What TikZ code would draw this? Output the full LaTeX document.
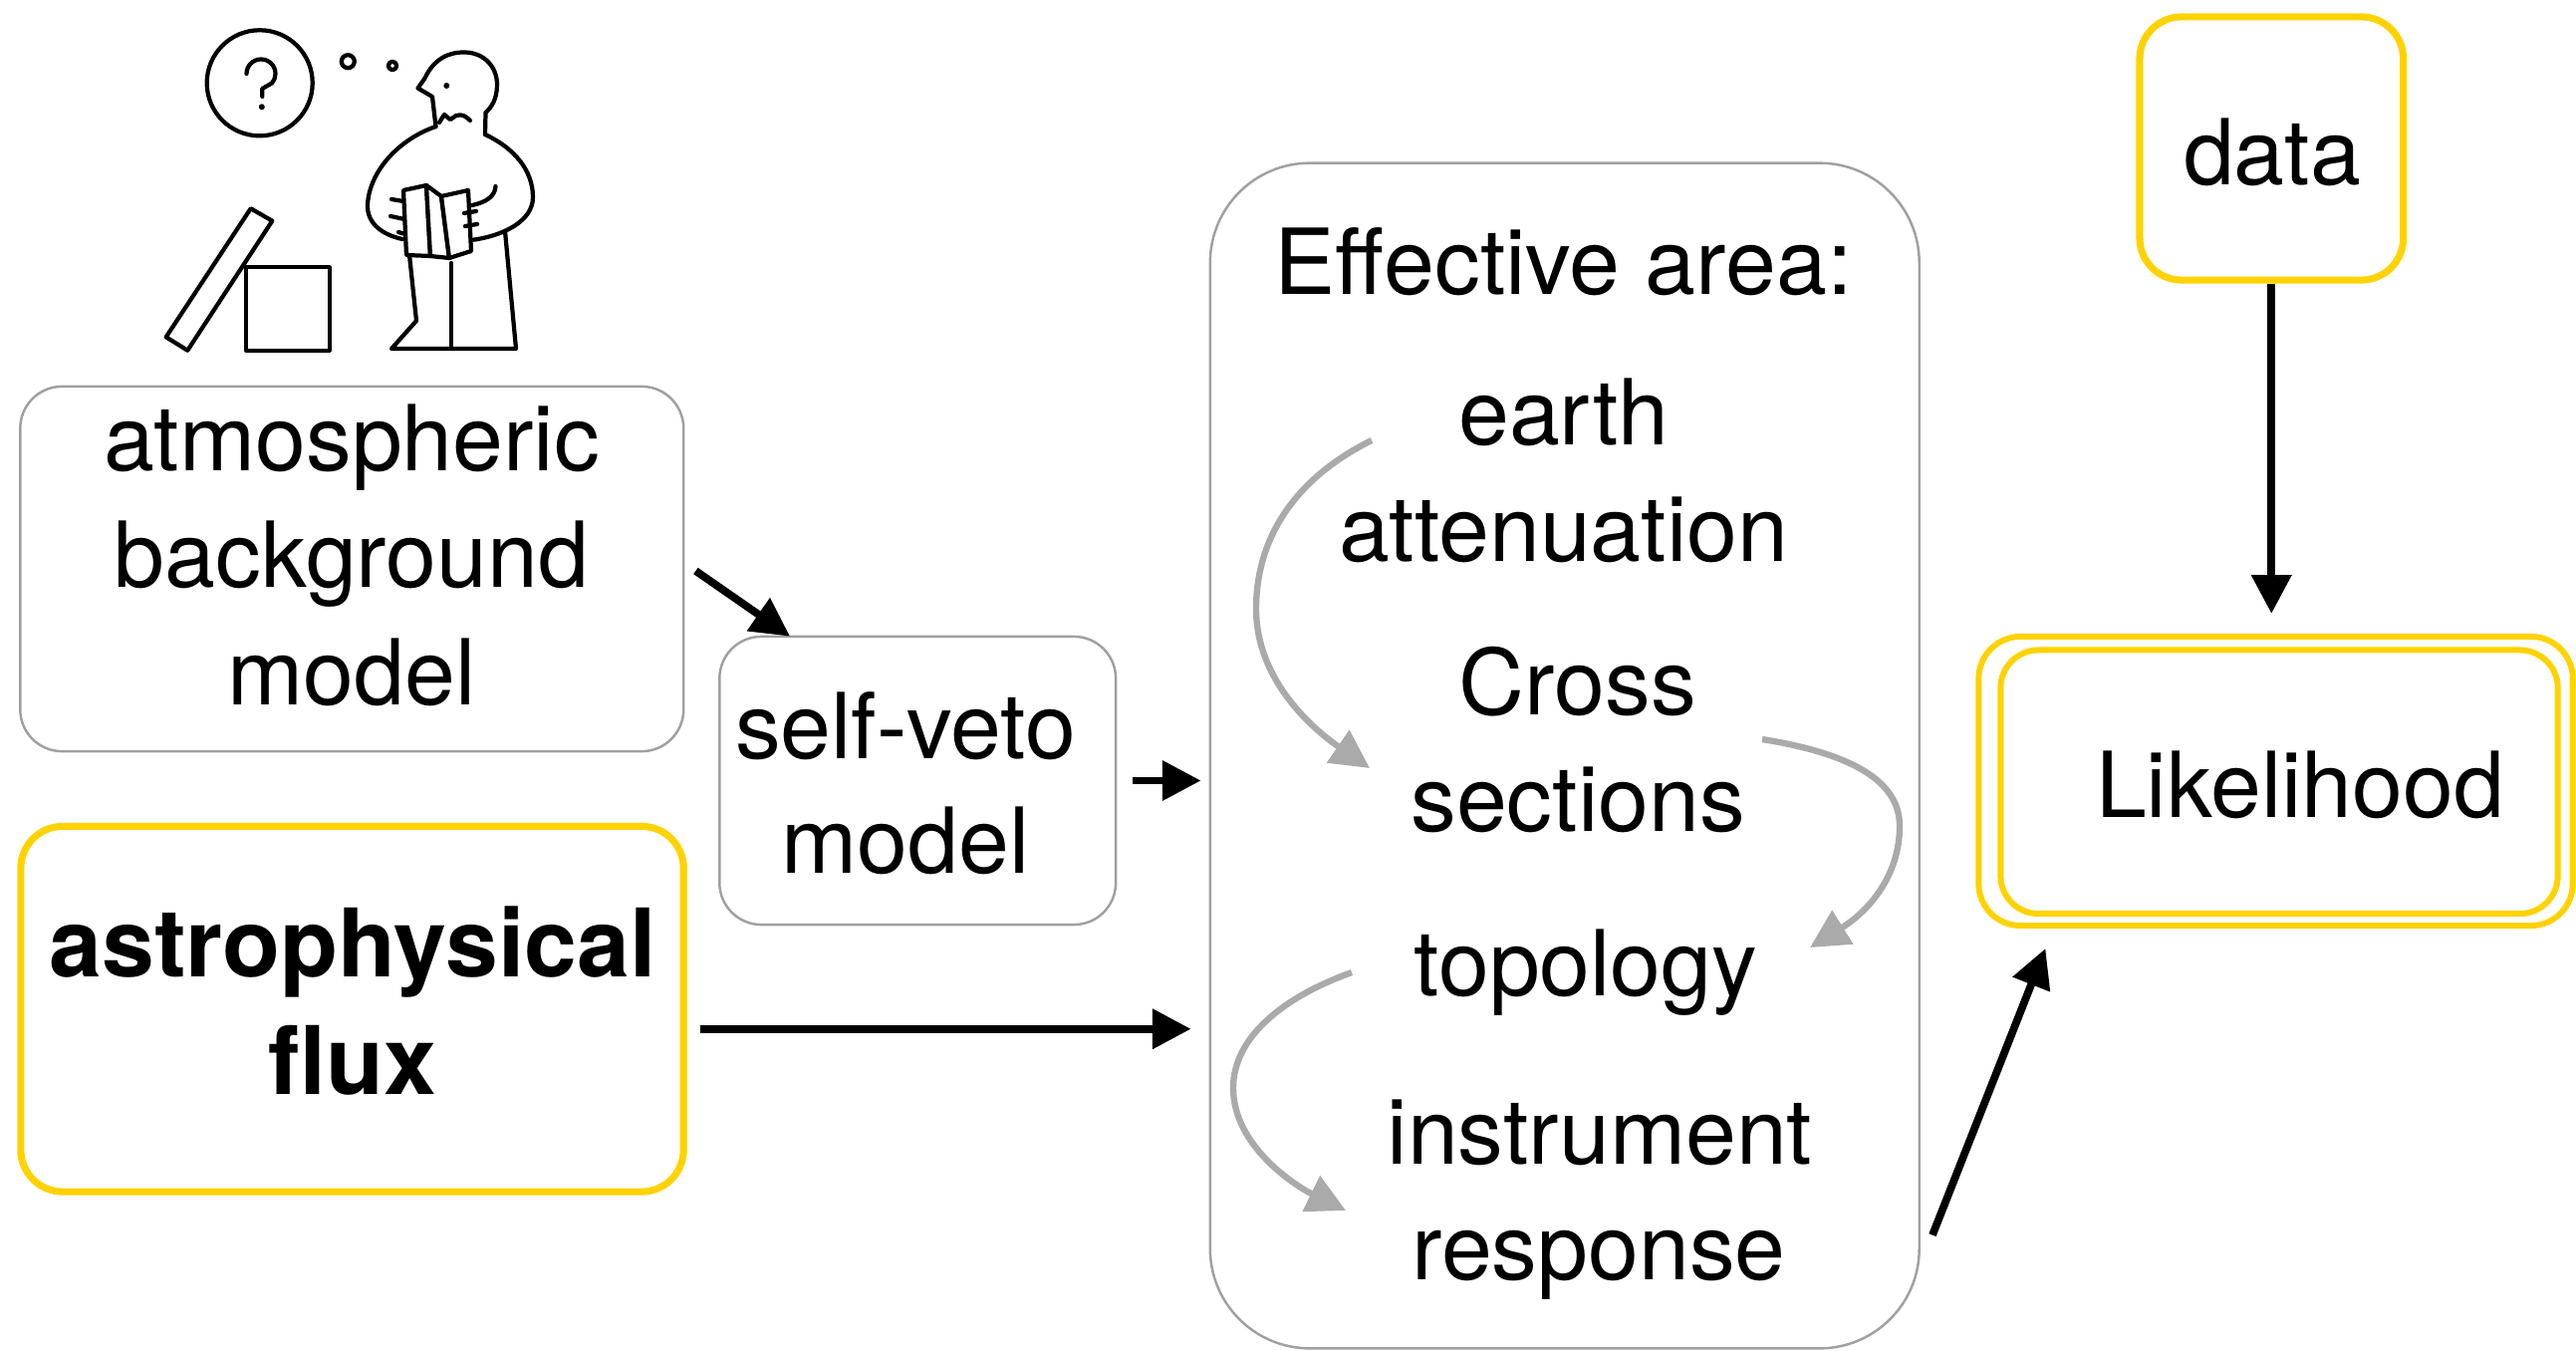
\documentclass[tikz,border=0pt]{standalone}
\usepackage{fontspec}
\setmainfont{TeX Gyre Heros}
\usetikzlibrary{arrows.meta,calc}
\definecolor{boxgray}{RGB}{160,160,160}
\definecolor{flowgray}{RGB}{170,170,170}
\definecolor{gold}{RGB}{255,210,0}

\begin{document}
\begin{tikzpicture}[x=0.01cm,y=-0.01cm,
  plainbox/.style={rectangle, draw=boxgray, line width=0.7pt, rounded corners=0.42cm, inner sep=0pt},
  goldbox/.style={rectangle, draw=gold, line width=2pt, rounded corners=0.42cm, inner sep=0pt},
  txt/.style={anchor=base, inner sep=0pt, font=\fontsize{26}{33}\selectfont},
  boldtxt/.style={txt, font=\fontsize{27}{33}\selectfont\bfseries},
  arr/.style={line width=2.2pt, -{Triangle[length=11pt,width=11pt]}},
  flow/.style={draw=flowgray, line width=1.8pt, -{Triangle[length=11pt,width=11pt]}},
  icon/.style={line width=1.2pt, line join=round, line cap=round}
]
\useasboundingbox (0,0) rectangle (2586,1355);

% ---------- boxes ----------
\node[plainbox, minimum width=6.655cm, minimum height=3.66cm] (atm) at (353.25,571) {};
\node[plainbox, minimum width=3.976cm, minimum height=2.89cm] (veto) at (921.2,783.5) {};
\node[goldbox, minimum width=6.65cm, minimum height=3.665cm] (astro) at (353.5,1012.75) {};
\node[plainbox, rounded corners=1cm, minimum width=7.115cm, minimum height=11.89cm] (eff) at (1570.75,758.5) {};
\node[goldbox, minimum width=2.645cm, minimum height=2.64cm] (data) at (2280.25,149) {};
\node[goldbox, line width=1.7pt, minimum width=5.96cm, minimum height=2.90cm] (likeout) at (2284.5,784) {};
\node[goldbox, line width=1.7pt, rounded corners=0.38cm, minimum width=5.59cm, minimum height=2.645cm] (likein) at (2288,784.75) {};

% ---------- texts ----------
\node[txt] (t-atm1) at (353,472) {atmospheric};
\node[txt] (t-atm2) at (353,589) {background};
\node[txt] (t-atm3) at (353,707) {model};
\node[txt] (t-veto1) at (909,761) {self-veto};
\node[txt] (t-veto2) at (909,876) {model};
\node[boldtxt] (t-astro1) at (354,980) {astrophysical};
\node[boldtxt] (t-astro2) at (354,1098) {flux};
\node[txt] (t-eff) at (1569.5,296) {Effective area:};
\node[txt] (earth) at (1569.5,446) {earth};
\node[txt] (atten) at (1569.5,563) {attenuation};
\node[txt] (cross) at (1584,717) {Cross};
\node[txt] (sect) at (1584,834) {sections};
\node[txt] (topo) at (1592,999) {topology};
\node[txt] (instr) at (1606,1168) {instrument};
\node[txt] (resp) at (1605,1284) {response};
\node[txt] (t-data) at (2281,186) {data};
\node[txt] (t-like) at (2309,820) {Likelihood};

% ---------- black connectors ----------
\draw[arr] ($(atm.east)+(11,2)$) -- ($(veto.north west)+(72,1)$);
\draw[arr] ($(veto.east)+(16,0)$) -- ($(veto.east -| eff.west)+(-8,0)$);
\draw[arr] ($(astro.east)+(13,20)$) -- ($(astro.east -| eff.west)+(-18,20)$);
\draw[arr] ($(eff.south east)+(12,-115)$) -- ($(likeout.south west)+(70,20)$);
\draw[arr, shorten >=0.2cm] (data.south) -- (data.south |- likeout.north);

% ---------- grey flow inside the effective area ----------
\draw[flow] ($(earth.base)+(-192.5,-4)$) .. controls (1300,480) and (1261,540) .. (1261,611)
  .. controls (1261,690) and (1330,740) .. ($(cross.base)+(-209,54)$);
\draw[flow] ($(sect.base)+(185,-92)$) .. controls (1850,755) and (1907,780) .. (1907,829)
  .. controls (1907,880) and (1875,915) .. ($(topo.base)+(225,-48)$);
\draw[flow] ($(topo.base)+(-235,-23)$) .. controls (1290,1000) and (1238,1040) .. (1238,1092)
  .. controls (1238,1150) and (1300,1190) .. ($(resp.base)+(-254,-69)$);

% ---------- puzzled-reader icon ----------
% thought bubble with question mark
\draw[icon] (260.7,83.3) circle[radius=0.53cm];
\draw[icon] (247.5,74) arc[start angle=180, end angle=-40, radius=0.145cm]
  -- (263.3,89) -- (263.3,97);
\fill (262.8,107.3) circle[radius=0.03cm];
\draw[icon] (349.3,61.7) circle[radius=0.065cm];
\draw[icon] (394,66) circle[radius=0.042cm];
% opened box and its lid
\draw[icon] (166.7,338.3) -- (251.7,209.3) -- (273.3,221.7) -- (188.3,351.7) -- cycle;
\draw[icon] (246.7,268.3) rectangle (330.7,351.7);
% head
\draw[icon] (437.5,127) -- (434,97) -- (419.5,88.5) -- (426.5,78.5)
  .. controls (436,58) and (452,52) .. (467,52.5)
  .. controls (486,53) and (499,67) .. (499,85)
  .. controls (499,100) and (493,108) .. (487.5,113) -- (487,135);
\fill (448.3,86) circle[radius=0.03cm];
\draw[icon] (441,123) -- (446,115) -- (452,120) -- (458,116) .. controls (464,114) and (468,117) .. (472,121);
% body and arms
\draw[icon] (437.5,127) .. controls (400,140) and (371,172) .. (369,205)
  .. controls (368,225) and (385,236) .. (404,240);
\draw[icon] (487,135) .. controls (515,148) and (535,170) .. (535,198)
  .. controls (535,222) and (505,237) .. (473,241);
\draw[icon] (497.5,187) .. controls (497,197) and (488,203) .. (474,206);
% open book held in the hands
\draw[icon, fill=white] (405,191) -- (428,186) -- (432,257) -- (408,256) -- cycle;
\draw[icon, fill=white] (428,186) -- (443,197) -- (451,259) -- (432,257) -- cycle;
\draw[icon, fill=white] (443,197) -- (470,191) -- (473,252) -- (451,259) -- cycle;
\draw[icon] (393,200) -- (405,202);
\draw[icon] (392,217) -- (406,220);
\draw[icon] (400,233) -- (407,235);
\draw[icon] (466,214) -- (478,212);
\draw[icon] (467,227) -- (479,225);
% legs
\draw[icon] (411,256) -- (418,322) -- (393,350) -- (518,350) -- (507,232);
\draw[icon] (453,264) -- (453,350);
\end{tikzpicture}
\end{document}
